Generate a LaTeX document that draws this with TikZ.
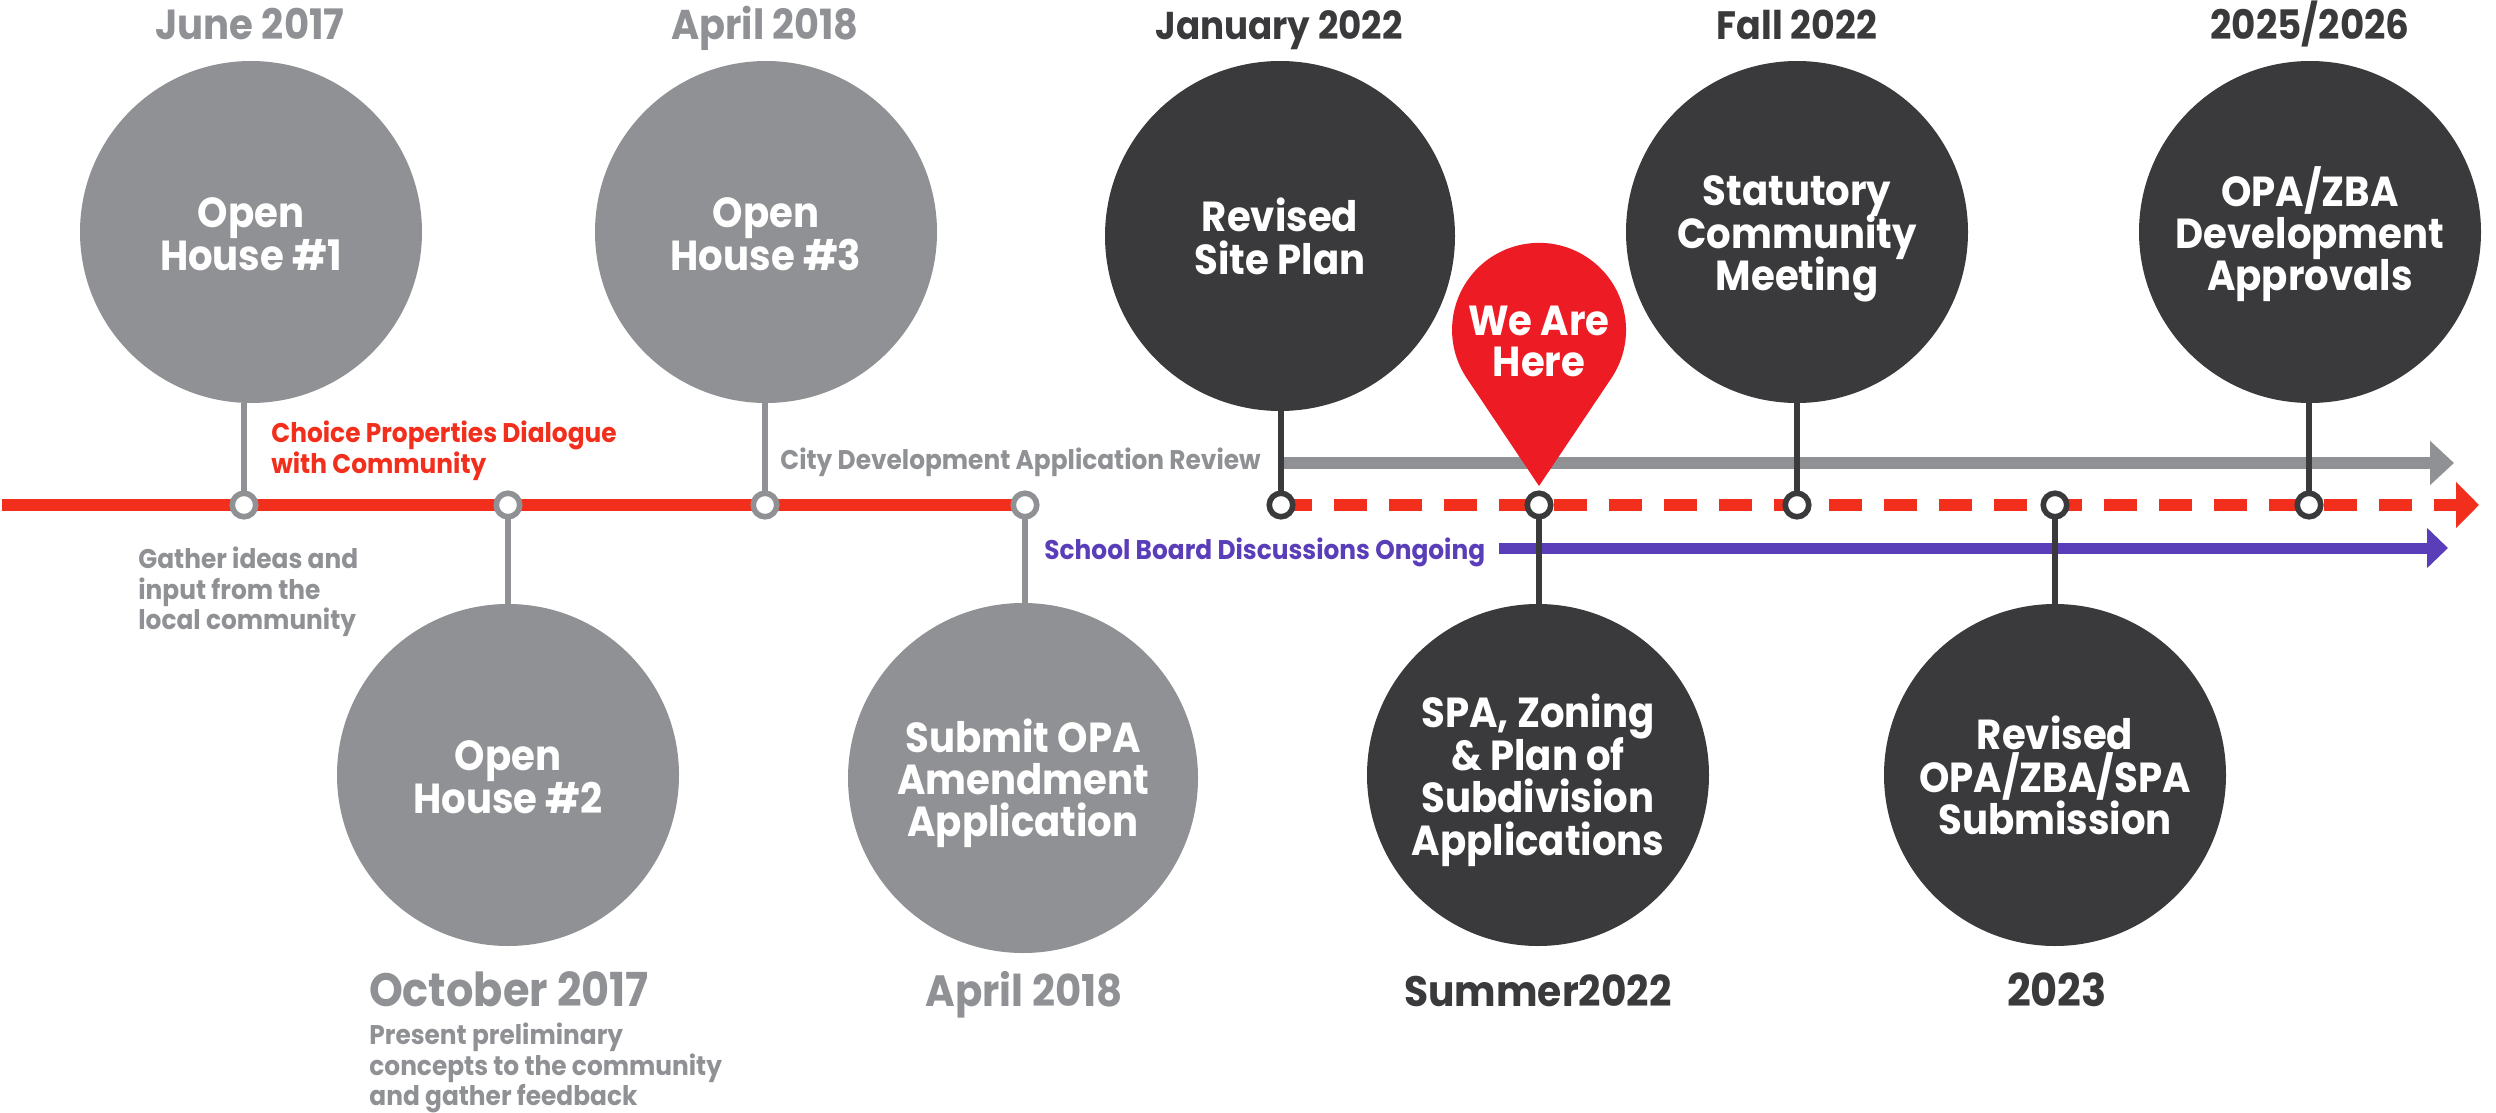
\documentclass[tikz,border=0pt]{standalone}
\usepackage{fontspec}
\setmainfont{Poppins}[FakeStretch=0.92]
\usetikzlibrary{arrows.meta,backgrounds}
\definecolor{cgray}{HTML}{8F9194}
\definecolor{cdark}{HTML}{3A3A3C}
\definecolor{cred}{HTML}{F22E1C}
\definecolor{cpin}{HTML}{ED1C24}
\definecolor{cpurple}{HTML}{5A3DB8}
\newcommand{\tightlines}{\lineskiplimit -30pt\relax}
\newcommand{\topstrut}{\rule{0pt}{22pt}}
\newcommand{\botstrut}{\rule[-5pt]{0pt}{5pt}}
\tikzset{
  x=0.5pt,y=-0.5pt,
  bubble/.style={circle,inner sep=0pt,text=white,align=center,
    font=\fontsize{21}{21.2}\selectfont\bfseries\tightlines},
  graybub/.style={bubble,fill=cgray,minimum size=171pt},
  darkbub/.style={bubble,fill=cdark,minimum size=171pt},
  bigbub/.style={minimum size=175pt},
  ringg/.style={circle,draw=cgray,line width=2.8pt,fill=white,minimum size=11.75pt,inner sep=0pt},
  ringd/.style={circle,draw=cdark,line width=2.8pt,fill=white,minimum size=11.75pt,inner sep=0pt},
  stemg/.style={draw=cgray,line width=2.8pt},
  stemd/.style={draw=cdark,line width=2.8pt},
  datelab/.style={font=\fontsize{#1}{24}\selectfont\bfseries,inner sep=0pt,anchor=base},
  smalllab/.style={font=\fontsize{13.5}{15.3}\selectfont\bfseries\tightlines,inner sep=0pt,align=left,anchor=west},
  redline/.style={draw=cred,line width=5.7pt},
}
\begin{document}
\begin{tikzpicture}
\useasboundingbox (0,0) rectangle (2496,1113);
\coordinate (redstart) at (2,505);
\coordinate (dashend) at (2456,505);
\coordinate (headstart) at (2434,505);
\coordinate (redend) at (2479,505);
\coordinate (graystart) at (1283,463);
\coordinate (grayend) at (2454,463);
\coordinate (purpstart) at (1499,548);
\coordinate (purpend) at (2448,548);
% rings
\node[ringg] (r1) at (244,505) {};
\node[ringg] (r2) at (508,505) {};
\node[ringg] (r3) at (765,505) {};
\node[ringg] (r4) at (1025,505) {};
\node[ringd] (r5) at (1281,505) {};
\node[ringd] (r6) at (1539,505) {};
\node[ringd] (r7) at (1797,505) {};
\node[ringd] (r8) at (2055,505) {};
\node[ringd] (r9) at (2309,505) {};
% bubbles
\node[graybub] (c1) at (251,232) {\topstrut Open\\House \#1\botstrut};
\node[graybub] (c3) at (766,232) {\topstrut Open\\House \#3\botstrut};
\node[darkbub,bigbub] (c5) at (1280,236) {\topstrut Revised\\Site Plan\botstrut};
\node[darkbub] (c7) at (1797,232) {\topstrut Statutory\\Community\\Meeting\botstrut};
\node[darkbub] (c9) at (2310,232) {\topstrut OPA/ZBA\\Development\\Approvals\botstrut};
\node[graybub] (c2) at (508,775) {\topstrut Open\\House \#2\botstrut};
\node[graybub,bigbub] (c4) at (1023,778) {\topstrut Submit OPA\\Amendment\\Application\botstrut};
\node[darkbub] (c6) at (1538,775) {\topstrut SPA, Zoning\\\& Plan of\\Subdivision\\Applications\botstrut};
\node[darkbub] (c8) at (2055,775) {\topstrut Revised\\OPA/ZBA/SPA\\Submission\botstrut};
\begin{scope}[on background layer]
  % lines
  \draw[redline] (redstart) -- (r4.center);
  \draw[redline,dash pattern=on 16.5pt off 11pt,dash phase=1pt] (r5.center) -- (dashend);
  \draw[redline,-{Triangle[length=11.5pt,width=22.5pt]}] (headstart) -- (redend);
  \draw[draw=cgray,line width=6pt,-{Triangle[length=12pt,width=21.5pt]}] (graystart) -- (grayend);
  \draw[draw=cpurple,line width=5.5pt,-{Triangle[length=10.5pt,width=19.5pt]}] (purpstart) -- (purpend);
  % stems
  \draw[stemg] (r1.center) -- (r1 |- c1.south);
  \draw[stemg] (r3.center) -- (r3 |- c3.south);
  \draw[stemg] (r2.center) -- (r2 |- c2.north);
  \draw[stemg] (r4.center) -- (r4 |- c4.north);
  \draw[stemd] (r5.center) -- (r5 |- c5.south);
  \draw[stemd] (r7.center) -- (r7 |- c7.south);
  \draw[stemd] (r9.center) -- (r9 |- c9.south);
  \draw[stemd] (r6.center) -- (r6 |- c6.north);
  \draw[stemd] (r8.center) -- (r8 |- c8.north);
\end{scope}
% pin
\fill[cpin] (1539,486) -- (1611.5,378) arc[start angle=33.6,end angle=-213.6,radius=87] -- cycle;
\node[inner sep=0pt,text=white,align=center,font=\fontsize{21}{20.5}\selectfont\bfseries\tightlines] (pin) at (1539,339) {\topstrut We Are\\Here\botstrut};
% date labels
\node[datelab=21,text=cgray] (d1) at (250,40) {June 2017};
\node[datelab=20.8,text=cgray] (d3) at (765,40) {April 2018};
\node[datelab=19.4,text=cdark] (d5) at (1279,40) {January 2022};
\node[datelab=19.8,text=cdark] (d7) at (1797,40) {Fall 2022};
\node[datelab=20.3,text=cdark] (d9) at (2310,40) {2025/2026};
\node[datelab=23.4,text=cgray] (d2) at (509,1006) {October 2017};
\node[datelab=21.9,text=cgray] (d4) at (1024,1006) {April 2018};
\node[datelab=21.3,text=cdark] (d6) at (1538,1006) {Summer2022};
\node[datelab=22.6,text=cdark] (d8) at (2057,1006) {2023};
% small labels
\node[smalllab,text=cred] (t1) at (271,451) {Choice Properties Dialogue\\with Community};
\node[smalllab,text=cgray] (t2) at (138,592) {Gather ideas and\\input from the\\local community};
\node[smalllab,text=cgray] (t3) at (369,1068) {Present preliminary\\concepts to the community\\and gather feedback};
\node[smalllab,text=cgray] (t4) at (780,462) {City Development Application Review};
\node[smalllab,text=cpurple] (t5) at (1044,552) {School Board Discussions Ongoing};
\end{tikzpicture}
\end{document}
